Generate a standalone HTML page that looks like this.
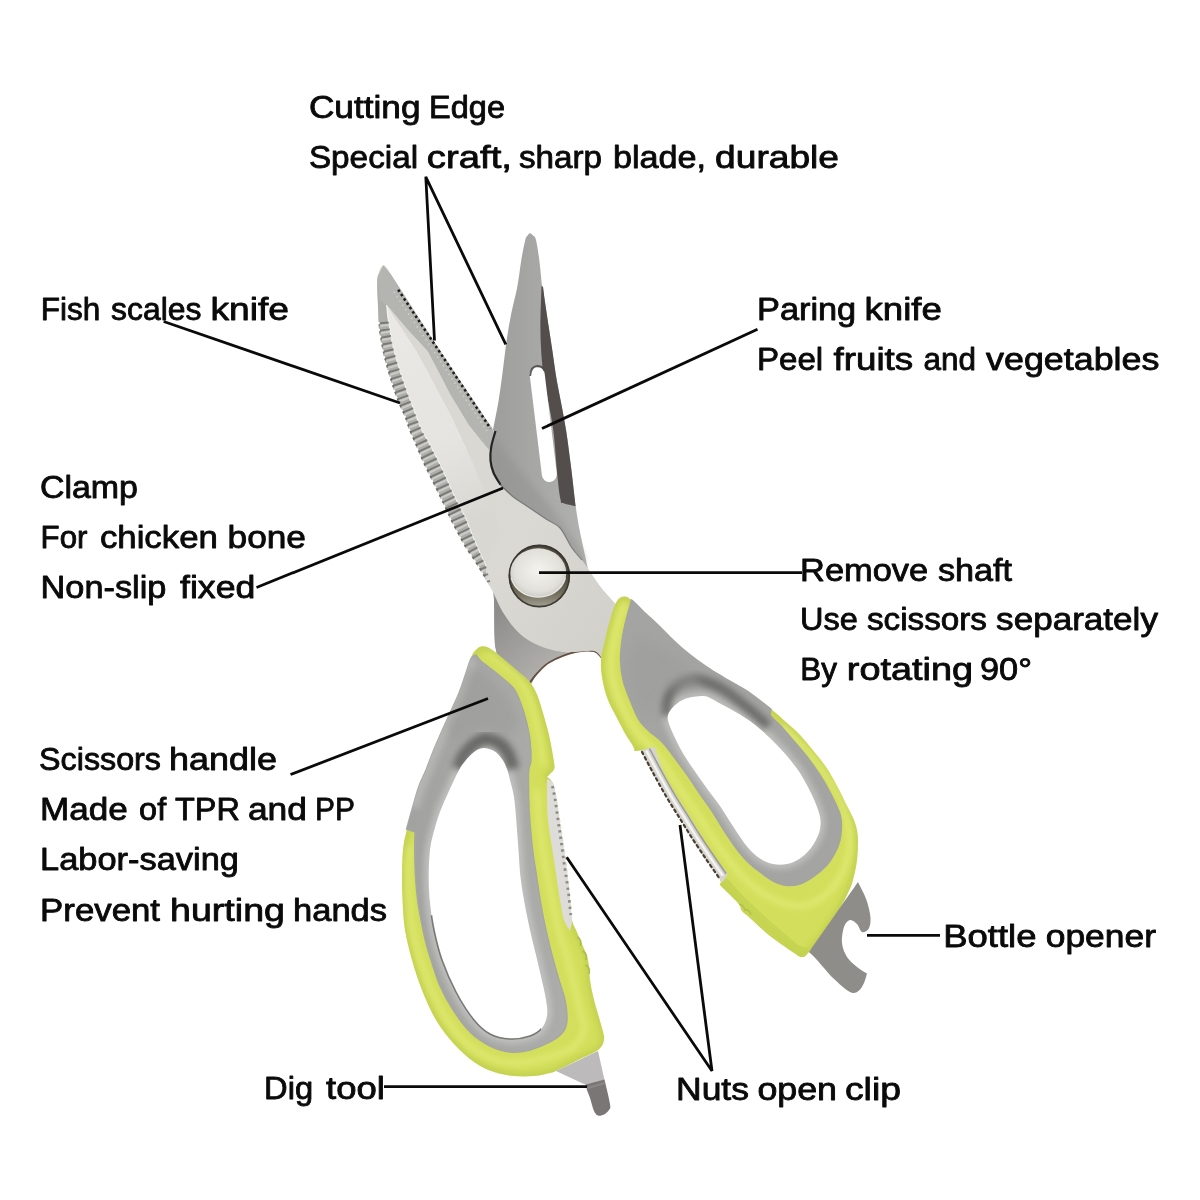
<!DOCTYPE html>
<html><head><meta charset="utf-8"><title>Scissors</title>
<style>
html,body{margin:0;padding:0;background:#fff;}
body{width:1200px;height:1200px;overflow:hidden;font-family:"Liberation Sans",sans-serif;}
svg{display:block;}
text{font-family:"Liberation Sans",sans-serif;fill:#0a0a0a;}
</style></head><body>
<svg width="1200" height="1200" viewBox="0 0 1200 1200">
<defs>
<linearGradient id="gBack" x1="0" y1="0" x2="1" y2="0">
 <stop offset="0" stop-color="#9d9d9b"/><stop offset="1" stop-color="#b2b2b0"/>
</linearGradient>
<linearGradient id="gFront" x1="0" y1="0" x2="1" y2="1">
 <stop offset="0" stop-color="#d3d1cc"/><stop offset="0.6" stop-color="#dbd9d4"/><stop offset="1" stop-color="#d0cec8"/>
</linearGradient>
<radialGradient id="gPiv" cx="0.5" cy="0.45" r="0.6">
 <stop offset="0" stop-color="#f4f3ee"/><stop offset="0.7" stop-color="#e2e0da"/><stop offset="1" stop-color="#c4c2bc"/>
</radialGradient>
<linearGradient id="gHandleL" x1="0" y1="0" x2="1" y2="0">
 <stop offset="0" stop-color="#a2a2a1"/><stop offset="1" stop-color="#acacab"/>
</linearGradient>
<filter id="soft" x="-5%" y="-5%" width="110%" height="110%"><feGaussianBlur stdDeviation="0.6"/></filter>
<filter id="blur2" x="-20%" y="-20%" width="140%" height="140%"><feGaussianBlur stdDeviation="3"/></filter>
<filter id="blur4" x="-20%" y="-20%" width="140%" height="140%"><feGaussianBlur stdDeviation="5"/></filter>
</defs>
<g filter="url(#soft)">
<path d="M527.2 236.0C528.0 234.9 529.0 233.3 530.0 233.2C531.0 233.1 532.0 234.4 533.0 235.5C534.0 236.6 535.0 235.9 536.0 240.0C537.0 244.1 538.3 252.3 539.3 260.0C540.3 267.7 541.5 281.7 542.0 286.0C542.2 286.2 542.8 286.8 543.0 287.0C543.3 289.2 543.8 293.4 544.7 300.0C545.7 306.6 547.4 317.9 548.7 326.7C550.0 335.5 551.4 344.1 552.7 353.0C554.0 361.9 555.2 371.3 556.7 380.0C558.2 388.7 559.9 396.4 561.5 405.0C563.1 413.6 564.7 421.4 566.3 431.7C567.9 442.0 569.4 454.3 571.0 466.7C572.6 479.1 574.2 495.4 575.7 506.3C577.2 517.2 578.3 523.0 580.0 532.0C581.7 541.0 584.3 551.2 586.0 560.0C587.7 568.8 590.2 575.0 590.0 585.0C589.8 595.0 589.0 610.5 585.0 620.0C581.0 629.5 572.7 637.0 566.0 642.0C559.3 647.0 551.3 647.0 545.0 650.0C538.7 653.0 533.5 657.7 528.0 660.0C522.5 662.3 517.3 665.7 512.0 664.0C506.7 662.3 499.0 660.7 496.0 650.0C493.0 639.3 495.0 615.0 494.0 600.0C493.0 585.0 490.7 580.0 490.0 560.0C489.3 540.0 489.5 501.7 490.0 480.0C490.5 458.3 492.5 438.3 493.0 430.0C493.9 425.0 497.0 410.6 498.7 400.0C500.4 389.4 502.0 376.7 503.3 366.7C504.6 356.7 505.4 348.9 506.7 340.0C508.0 331.1 509.5 322.2 511.3 313.3C513.1 304.4 515.6 295.6 517.3 286.7C519.0 277.8 520.0 267.8 521.3 260.0C522.6 252.2 524.3 244.0 525.3 240.0C526.3 236.0 526.4 237.1 527.2 236.0Z" fill="url(#gBack)"/>
<path d="M541.5 286.0C541.8 286.2 542.8 286.8 543.0 287.0C543.3 289.2 543.8 293.4 544.7 300.0C545.7 306.6 547.4 317.9 548.7 326.7C550.0 335.5 551.4 344.1 552.7 353.0C554.0 361.9 555.2 371.3 556.7 380.0C558.2 388.7 559.9 396.4 561.5 405.0C563.1 413.6 564.7 421.4 566.3 431.7C567.9 442.0 569.4 454.3 571.0 466.7C572.6 479.1 574.9 499.7 575.7 506.3C573.6 505.8 565.5 504.1 563.0 503.0C560.5 501.9 561.4 503.7 560.5 499.5C559.6 495.3 558.8 489.3 557.6 478.0C556.4 466.7 555.1 444.7 553.5 431.7C551.9 418.7 549.6 408.6 548.0 400.0C546.4 391.4 545.1 387.8 544.0 380.0C542.9 372.2 541.9 361.8 541.3 353.0C540.7 344.2 540.4 335.8 540.4 327.0C540.4 318.2 540.8 306.8 541.0 300.0C541.2 293.2 541.4 288.3 541.5 286.0Z" fill="#524e4c"/>
<path d="M537.2 374.5 L549.4 474.5" stroke="#fff" stroke-width="15" stroke-linecap="round" fill="none"/>
<path d="M530.2 376 Q530.8 366 537.6 366 Q543.5 366.3 544.5 371" fill="none" stroke="#4e4c4a" stroke-width="1.8" opacity="0.9"/>
<path d="M493.0 440.0C497.7 438.3 508.8 456.7 520.0 470.0C531.2 483.3 549.2 505.0 560.0 520.0C570.8 535.0 585.0 553.3 585.0 560.0C585.0 566.7 570.8 566.7 560.0 560.0C549.2 553.3 531.3 533.3 520.0 520.0C508.7 506.7 496.5 493.3 492.0 480.0C487.5 466.7 488.3 441.7 493.0 440.0Z" fill="#8f8f8d" opacity="0.45" filter="url(#blur2)"/>
<linearGradient id="gTang" gradientUnits="userSpaceOnUse" x1="500" y1="610" x2="550" y2="670"><stop offset="0" stop-color="#8f8d8b"/><stop offset="1" stop-color="#b2b0ad"/></linearGradient>
<path d="M494.0 596.0C496.7 600.3 504.0 614.7 510.0 622.0C516.0 629.3 521.7 635.2 530.0 640.0C538.3 644.8 552.5 649.0 560.0 651.0C567.5 653.0 572.5 651.8 575.0 652.0C570.8 653.7 556.3 658.5 550.0 662.0C543.7 665.5 540.7 669.0 537.0 673.0C533.3 677.0 533.3 684.8 528.0 686.0C522.7 687.2 510.3 686.0 505.0 680.0C499.7 674.0 497.8 664.0 496.0 650.0C494.2 636.0 494.3 605.0 494.0 596.0Z" fill="url(#gTang)"/>
<path d="M601.5 657.5C600.2 656.5 598.4 652.1 594.0 651.2C589.6 650.3 582.3 650.4 575.0 652.2C567.7 654.0 556.3 658.5 550.0 662.0C543.7 665.5 540.3 670.1 537.0 673.5C533.7 676.9 531.2 681.0 530.0 682.5" fill="none" stroke="#5a4030" stroke-width="1.8" opacity="0.9"/>
<clipPath id="cLG"><path d="M476.0 655.0C476.8 656.0 478.7 658.8 481.0 661.0C483.3 663.2 486.3 665.1 490.0 668.0C493.7 670.9 499.0 675.0 503.0 678.5C507.0 682.0 511.1 685.0 514.0 689.0C516.9 693.0 518.5 697.3 520.5 702.5C522.5 707.7 524.4 713.8 526.0 720.0C527.6 726.2 529.2 733.3 530.0 740.0C530.8 746.7 531.2 754.8 531.0 760.0C530.8 765.2 529.1 764.8 528.7 771.0C528.3 777.2 528.5 788.3 528.7 797.0C528.9 805.7 529.3 814.2 530.0 823.0C530.7 831.8 531.6 841.0 532.7 850.0C533.8 859.0 535.4 868.2 536.7 877.0C538.0 885.8 539.2 894.2 540.7 903.0C542.2 911.8 544.1 921.3 546.0 930.0C547.9 938.7 549.8 946.7 552.0 955.0C554.2 963.3 556.8 972.5 559.0 980.0C561.2 987.5 563.7 993.3 565.0 1000.0C566.3 1006.7 567.3 1014.7 567.0 1020.0C566.7 1025.3 565.8 1028.3 563.0 1032.0C560.2 1035.7 555.5 1039.0 550.0 1042.0C544.5 1045.0 536.7 1048.3 530.0 1050.0C523.3 1051.7 516.7 1052.7 510.0 1052.0C503.3 1051.3 496.7 1049.3 490.0 1046.0C483.3 1042.7 476.2 1038.2 470.0 1032.0C463.8 1025.8 457.5 1016.7 452.5 1009.0C447.5 1001.3 443.6 994.2 440.0 986.0C436.4 977.8 433.2 966.8 431.0 960.0C428.8 953.2 427.8 950.0 426.5 945.0C425.2 940.0 424.4 937.0 423.0 930.0C421.6 923.0 419.2 911.8 418.0 903.0C416.8 894.2 416.1 885.8 415.5 877.0C414.9 868.2 414.8 857.5 414.7 850.0C414.6 842.5 414.9 835.0 415.0 832.0C413.6 831.5 407.9 829.5 406.5 829.0C407.5 825.3 410.6 814.2 412.7 807.0C414.8 799.8 416.8 792.2 419.0 786.0C421.2 779.8 423.8 775.5 426.0 770.0C428.2 764.5 430.0 759.2 432.5 753.0C435.0 746.8 438.1 739.7 441.0 733.0C443.9 726.3 447.0 719.7 450.0 713.0C453.0 706.3 456.3 699.7 459.0 693.0C461.7 686.3 464.0 678.8 466.0 673.0C468.0 667.2 469.3 661.5 471.0 658.5C472.7 655.5 475.2 655.6 476.0 655.0Z"/></clipPath>
<clipPath id="cLO"><path d="M481.0 646.5C483.7 645.9 486.3 646.5 490.0 648.5C493.7 650.5 498.5 654.8 503.0 658.5C507.5 662.2 512.7 666.8 517.0 670.5C521.3 674.2 525.7 677.0 529.0 681.0C532.3 685.0 534.7 689.2 537.0 694.5C539.3 699.8 541.1 706.6 543.0 713.0C544.9 719.4 546.9 726.3 548.5 733.0C550.1 739.7 551.5 747.3 552.5 753.0C553.5 758.7 554.4 764.0 554.5 767.0C554.6 770.0 553.2 770.3 553.0 771.0C552.0 772.0 548.0 776.0 547.0 777.0C548.2 778.5 551.8 778.8 554.0 786.0C556.2 793.2 558.0 807.7 560.0 820.0C562.0 832.3 564.3 846.7 566.0 860.0C567.7 873.3 569.0 890.0 570.0 900.0C571.0 910.0 571.0 915.0 572.0 920.0C573.0 925.0 574.3 926.0 576.0 930.0C577.7 934.0 580.0 939.0 582.0 944.0C584.0 949.0 586.7 954.0 588.0 960.0C589.3 966.0 589.0 973.3 590.0 980.0C591.0 986.7 592.0 992.0 594.0 1000.0C596.0 1008.0 600.3 1021.3 602.0 1028.0C603.7 1034.7 604.7 1036.3 604.0 1040.0C603.3 1043.7 602.3 1046.7 598.0 1050.0C593.7 1053.3 584.7 1056.7 578.0 1060.0C571.3 1063.3 562.7 1067.8 558.0 1070.0C553.3 1072.2 554.0 1072.0 550.0 1073.0C546.0 1074.0 540.0 1075.5 534.0 1076.0C528.0 1076.5 520.7 1076.7 514.0 1076.0C507.3 1075.3 500.7 1074.3 494.0 1072.0C487.3 1069.7 480.7 1066.7 474.0 1062.0C467.3 1057.3 460.3 1051.0 454.0 1044.0C447.7 1037.0 441.3 1029.0 436.0 1020.0C430.7 1011.0 426.0 1000.0 422.0 990.0C418.0 980.0 414.8 970.0 412.0 960.0C409.2 950.0 406.6 939.5 405.0 930.0C403.4 920.5 403.2 911.8 402.7 903.0C402.2 894.2 401.9 885.8 402.0 877.0C402.1 868.2 402.2 858.0 403.0 850.0C403.8 842.0 405.4 835.9 407.0 828.7C408.6 821.5 410.7 814.1 412.7 807.0C414.7 799.9 416.8 792.2 419.0 786.0C421.2 779.8 423.8 775.5 426.0 770.0C428.2 764.5 430.0 759.2 432.5 753.0C435.0 746.8 438.1 739.7 441.0 733.0C443.9 726.3 447.0 719.7 450.0 713.0C453.0 706.3 456.3 699.7 459.0 693.0C461.7 686.3 464.0 678.8 466.0 673.0C468.0 667.2 469.7 662.0 471.0 658.5C472.3 655.0 472.3 654.0 474.0 652.0C475.7 650.0 478.3 647.1 481.0 646.5Z"/></clipPath>
<path d="M481.0 646.5C483.7 645.9 486.3 646.5 490.0 648.5C493.7 650.5 498.5 654.8 503.0 658.5C507.5 662.2 512.7 666.8 517.0 670.5C521.3 674.2 525.7 677.0 529.0 681.0C532.3 685.0 534.7 689.2 537.0 694.5C539.3 699.8 541.1 706.6 543.0 713.0C544.9 719.4 546.9 726.3 548.5 733.0C550.1 739.7 551.5 747.3 552.5 753.0C553.5 758.7 554.4 764.0 554.5 767.0C554.6 770.0 553.2 770.3 553.0 771.0C552.0 772.0 548.0 776.0 547.0 777.0C548.2 778.5 551.8 778.8 554.0 786.0C556.2 793.2 558.0 807.7 560.0 820.0C562.0 832.3 564.3 846.7 566.0 860.0C567.7 873.3 569.0 890.0 570.0 900.0C571.0 910.0 571.0 915.0 572.0 920.0C573.0 925.0 574.3 926.0 576.0 930.0C577.7 934.0 580.0 939.0 582.0 944.0C584.0 949.0 586.7 954.0 588.0 960.0C589.3 966.0 589.0 973.3 590.0 980.0C591.0 986.7 592.0 992.0 594.0 1000.0C596.0 1008.0 600.3 1021.3 602.0 1028.0C603.7 1034.7 604.7 1036.3 604.0 1040.0C603.3 1043.7 602.3 1046.7 598.0 1050.0C593.7 1053.3 584.7 1056.7 578.0 1060.0C571.3 1063.3 562.7 1067.8 558.0 1070.0C553.3 1072.2 554.0 1072.0 550.0 1073.0C546.0 1074.0 540.0 1075.5 534.0 1076.0C528.0 1076.5 520.7 1076.7 514.0 1076.0C507.3 1075.3 500.7 1074.3 494.0 1072.0C487.3 1069.7 480.7 1066.7 474.0 1062.0C467.3 1057.3 460.3 1051.0 454.0 1044.0C447.7 1037.0 441.3 1029.0 436.0 1020.0C430.7 1011.0 426.0 1000.0 422.0 990.0C418.0 980.0 414.8 970.0 412.0 960.0C409.2 950.0 406.6 939.5 405.0 930.0C403.4 920.5 403.2 911.8 402.7 903.0C402.2 894.2 401.9 885.8 402.0 877.0C402.1 868.2 402.2 858.0 403.0 850.0C403.8 842.0 405.4 835.9 407.0 828.7C408.6 821.5 410.7 814.1 412.7 807.0C414.7 799.9 416.8 792.2 419.0 786.0C421.2 779.8 423.8 775.5 426.0 770.0C428.2 764.5 430.0 759.2 432.5 753.0C435.0 746.8 438.1 739.7 441.0 733.0C443.9 726.3 447.0 719.7 450.0 713.0C453.0 706.3 456.3 699.7 459.0 693.0C461.7 686.3 464.0 678.8 466.0 673.0C468.0 667.2 469.7 662.0 471.0 658.5C472.3 655.0 472.3 654.0 474.0 652.0C475.7 650.0 478.3 647.1 481.0 646.5Z" fill="#d3df5b"/>
<g clip-path="url(#cLO)">
<path d="M481.0 646.5C483.7 645.9 486.3 646.5 490.0 648.5C493.7 650.5 498.5 654.8 503.0 658.5C507.5 662.2 512.7 666.8 517.0 670.5C521.3 674.2 525.7 677.0 529.0 681.0C532.3 685.0 534.7 689.2 537.0 694.5C539.3 699.8 541.1 706.6 543.0 713.0C544.9 719.4 546.9 726.3 548.5 733.0C550.1 739.7 551.5 747.3 552.5 753.0C553.5 758.7 554.4 764.0 554.5 767.0C554.6 770.0 553.2 770.3 553.0 771.0C552.0 772.0 548.0 776.0 547.0 777.0C548.2 778.5 551.8 778.8 554.0 786.0C556.2 793.2 558.0 807.7 560.0 820.0C562.0 832.3 564.3 846.7 566.0 860.0C567.7 873.3 569.0 890.0 570.0 900.0C571.0 910.0 571.0 915.0 572.0 920.0C573.0 925.0 574.3 926.0 576.0 930.0C577.7 934.0 580.0 939.0 582.0 944.0C584.0 949.0 586.7 954.0 588.0 960.0C589.3 966.0 589.0 973.3 590.0 980.0C591.0 986.7 592.0 992.0 594.0 1000.0C596.0 1008.0 600.3 1021.3 602.0 1028.0C603.7 1034.7 604.7 1036.3 604.0 1040.0C603.3 1043.7 602.3 1046.7 598.0 1050.0C593.7 1053.3 584.7 1056.7 578.0 1060.0C571.3 1063.3 562.7 1067.8 558.0 1070.0C553.3 1072.2 554.0 1072.0 550.0 1073.0C546.0 1074.0 540.0 1075.5 534.0 1076.0C528.0 1076.5 520.7 1076.7 514.0 1076.0C507.3 1075.3 500.7 1074.3 494.0 1072.0C487.3 1069.7 480.7 1066.7 474.0 1062.0C467.3 1057.3 460.3 1051.0 454.0 1044.0C447.7 1037.0 441.3 1029.0 436.0 1020.0C430.7 1011.0 426.0 1000.0 422.0 990.0C418.0 980.0 414.8 970.0 412.0 960.0C409.2 950.0 406.6 939.5 405.0 930.0C403.4 920.5 403.2 911.8 402.7 903.0C402.2 894.2 401.9 885.8 402.0 877.0C402.1 868.2 402.2 858.0 403.0 850.0C403.8 842.0 405.4 835.9 407.0 828.7C408.6 821.5 410.7 814.1 412.7 807.0C414.7 799.9 416.8 792.2 419.0 786.0C421.2 779.8 423.8 775.5 426.0 770.0C428.2 764.5 430.0 759.2 432.5 753.0C435.0 746.8 438.1 739.7 441.0 733.0C443.9 726.3 447.0 719.7 450.0 713.0C453.0 706.3 456.3 699.7 459.0 693.0C461.7 686.3 464.0 678.8 466.0 673.0C468.0 667.2 469.7 662.0 471.0 658.5C472.3 655.0 472.3 654.0 474.0 652.0C475.7 650.0 478.3 647.1 481.0 646.5Z" fill="none" stroke="#b2c146" stroke-width="4" filter="url(#blur2)" opacity="0.85"/>
<path d="M488.0 653.0C490.5 655.0 498.2 661.0 503.0 665.0C507.8 669.0 513.2 673.0 517.0 677.0C520.8 681.0 523.5 684.3 526.0 689.0C528.5 693.7 530.2 699.0 532.0 705.0C533.8 711.0 535.5 718.3 537.0 725.0C538.5 731.7 540.0 738.3 541.0 745.0C542.0 751.7 542.7 761.7 543.0 765.0" fill="none" stroke="#e5ee80" stroke-width="3.5" filter="url(#blur2)" opacity="0.9"/>
<path d="M537.0 790.0C537.3 795.0 538.0 810.0 539.0 820.0C540.0 830.0 541.5 840.0 543.0 850.0C544.5 860.0 546.3 870.8 548.0 880.0C549.7 889.2 551.0 895.8 553.0 905.0C555.0 914.2 557.5 925.8 560.0 935.0C562.5 944.2 565.7 951.7 568.0 960.0C570.3 968.3 572.0 976.7 574.0 985.0C576.0 993.3 578.3 1002.5 580.0 1010.0C581.7 1017.5 585.3 1023.7 584.0 1030.0C582.7 1036.3 578.5 1043.3 572.0 1048.0C565.5 1052.7 554.5 1055.5 545.0 1058.0C535.5 1060.5 524.2 1063.0 515.0 1063.0C505.8 1063.0 497.8 1061.0 490.0 1058.0C482.2 1055.0 475.0 1051.0 468.0 1045.0C461.0 1039.0 454.0 1030.8 448.0 1022.0C442.0 1013.2 436.7 1002.3 432.0 992.0C427.3 981.7 423.3 970.3 420.0 960.0C416.7 949.7 413.8 940.0 412.0 930.0C410.2 920.0 409.7 910.0 409.0 900.0C408.3 890.0 407.8 879.2 408.0 870.0C408.2 860.8 409.7 849.2 410.0 845.0" fill="none" stroke="#e3ec7c" stroke-width="5" filter="url(#blur2)" opacity="0.85"/>
</g>
<path d="M476.0 655.0C476.8 656.0 478.7 658.8 481.0 661.0C483.3 663.2 486.3 665.1 490.0 668.0C493.7 670.9 499.0 675.0 503.0 678.5C507.0 682.0 511.1 685.0 514.0 689.0C516.9 693.0 518.5 697.3 520.5 702.5C522.5 707.7 524.4 713.8 526.0 720.0C527.6 726.2 529.2 733.3 530.0 740.0C530.8 746.7 531.2 754.8 531.0 760.0C530.8 765.2 529.1 764.8 528.7 771.0C528.3 777.2 528.5 788.3 528.7 797.0C528.9 805.7 529.3 814.2 530.0 823.0C530.7 831.8 531.6 841.0 532.7 850.0C533.8 859.0 535.4 868.2 536.7 877.0C538.0 885.8 539.2 894.2 540.7 903.0C542.2 911.8 544.1 921.3 546.0 930.0C547.9 938.7 549.8 946.7 552.0 955.0C554.2 963.3 556.8 972.5 559.0 980.0C561.2 987.5 563.7 993.3 565.0 1000.0C566.3 1006.7 567.3 1014.7 567.0 1020.0C566.7 1025.3 565.8 1028.3 563.0 1032.0C560.2 1035.7 555.5 1039.0 550.0 1042.0C544.5 1045.0 536.7 1048.3 530.0 1050.0C523.3 1051.7 516.7 1052.7 510.0 1052.0C503.3 1051.3 496.7 1049.3 490.0 1046.0C483.3 1042.7 476.2 1038.2 470.0 1032.0C463.8 1025.8 457.5 1016.7 452.5 1009.0C447.5 1001.3 443.6 994.2 440.0 986.0C436.4 977.8 433.2 966.8 431.0 960.0C428.8 953.2 427.8 950.0 426.5 945.0C425.2 940.0 424.4 937.0 423.0 930.0C421.6 923.0 419.2 911.8 418.0 903.0C416.8 894.2 416.1 885.8 415.5 877.0C414.9 868.2 414.8 857.5 414.7 850.0C414.6 842.5 414.9 835.0 415.0 832.0C413.6 831.5 407.9 829.5 406.5 829.0C407.5 825.3 410.6 814.2 412.7 807.0C414.8 799.8 416.8 792.2 419.0 786.0C421.2 779.8 423.8 775.5 426.0 770.0C428.2 764.5 430.0 759.2 432.5 753.0C435.0 746.8 438.1 739.7 441.0 733.0C443.9 726.3 447.0 719.7 450.0 713.0C453.0 706.3 456.3 699.7 459.0 693.0C461.7 686.3 464.0 678.8 466.0 673.0C468.0 667.2 469.3 661.5 471.0 658.5C472.7 655.5 475.2 655.6 476.0 655.0Z" fill="url(#gHandleL)" stroke="#a6a6a5" stroke-width="1.4"/>
<g clip-path="url(#cLG)">
<path d="M483.0 748.0C486.3 747.8 490.8 749.2 494.0 751.0C497.2 752.8 499.8 756.0 502.0 759.0C504.2 762.0 505.7 765.5 507.0 769.0C508.3 772.5 508.8 775.3 510.0 780.0C511.2 784.7 512.9 789.8 514.0 797.0C515.1 804.2 515.8 814.2 516.5 823.0C517.2 831.8 517.8 841.0 518.5 850.0C519.2 859.0 519.5 868.2 520.5 877.0C521.5 885.8 522.9 894.2 524.5 903.0C526.1 911.8 528.1 921.3 530.0 930.0C531.9 938.7 533.8 945.8 536.0 955.0C538.2 964.2 541.2 977.0 543.0 985.0C544.8 993.0 545.8 997.8 546.5 1003.0C547.2 1008.2 547.8 1011.8 547.0 1016.0C546.2 1020.2 544.8 1024.7 542.0 1028.0C539.2 1031.3 535.3 1034.2 530.0 1036.0C524.7 1037.8 516.7 1039.3 510.0 1039.0C503.3 1038.7 496.0 1037.2 490.0 1034.0C484.0 1030.8 479.7 1027.0 474.0 1020.0C468.3 1013.0 461.3 1002.0 456.0 992.0C450.7 982.0 445.7 970.3 442.0 960.0C438.3 949.7 436.0 939.5 434.0 930.0C432.0 920.5 430.9 911.8 430.0 903.0C429.1 894.2 428.7 885.8 428.7 877.0C428.7 868.2 429.1 857.7 430.0 850.0C430.9 842.3 432.2 837.7 434.0 831.0C435.8 824.3 438.0 817.0 440.7 810.0C443.4 803.0 446.9 795.4 450.0 788.7C453.1 782.0 456.3 774.8 459.0 770.0C461.7 765.2 463.5 763.0 466.0 760.0C468.5 757.0 471.2 754.0 474.0 752.0C476.8 750.0 479.7 748.2 483.0 748.0Z" fill="none" stroke="#c4c4c2" stroke-width="9" filter="url(#blur2)" opacity="0.9"/>
<path d="M458.0 769.0C459.3 766.3 461.8 757.9 466.0 753.0C470.2 748.1 477.7 741.2 483.0 739.5C488.3 737.8 493.8 740.1 498.0 742.5C502.2 744.9 505.5 749.6 508.0 754.0C510.5 758.4 512.2 766.5 513.0 769.0" fill="none" stroke="#5a5a58" stroke-width="13" filter="url(#blur2)" opacity="0.8"/>
<path d="M471.0 658.5C470.2 660.9 468.0 667.2 466.0 673.0C464.0 678.8 461.7 686.3 459.0 693.0C456.3 699.7 453.0 706.3 450.0 713.0C447.0 719.7 443.9 726.3 441.0 733.0C438.1 739.7 435.0 746.8 432.5 753.0C430.0 759.2 428.2 764.5 426.0 770.0C423.8 775.5 421.2 779.8 419.0 786.0C416.8 792.2 413.8 803.5 412.7 807.0" fill="none" stroke="#b9b9b7" stroke-width="14" filter="url(#blur2)" opacity="0.8"/>
<path d="M470.0 668.0C476.7 667.2 492.0 681.3 500.0 690.0C508.0 698.7 517.2 712.5 518.0 720.0C518.8 727.5 511.3 733.7 505.0 735.0C498.7 736.3 488.3 727.2 480.0 728.0C471.7 728.8 460.3 740.5 455.0 740.0C449.7 739.5 447.2 732.5 448.0 725.0C448.8 717.5 456.3 704.5 460.0 695.0C463.7 685.5 463.3 668.8 470.0 668.0Z" fill="#9a9a98" opacity="0.5" filter="url(#blur4)"/>
</g>
<path d="M547.0 779.0C548.2 780.2 551.8 779.2 554.0 786.0C556.2 792.8 558.0 807.7 560.0 820.0C562.0 832.3 564.3 846.7 566.0 860.0C567.7 873.3 569.0 890.0 570.0 900.0C571.0 910.0 572.0 914.8 572.0 920.0C572.0 925.2 570.3 929.2 570.0 931.0C569.0 929.2 565.7 925.2 564.0 920.0C562.3 914.8 561.7 910.0 560.0 900.0C558.3 890.0 556.0 873.3 554.0 860.0C552.0 846.7 549.2 833.5 548.0 820.0C546.8 806.5 547.2 785.8 547.0 779.0Z" fill="#dddcd8"/>
<path d="M555.1 784.0C555.6 786.7 557.3 794.0 558.3 800.0C559.3 806.0 560.1 813.3 561.1 820.0C562.1 826.7 563.0 832.3 564.1 840.0C565.2 847.7 566.4 857.2 567.6 866.0C568.9 874.8 570.6 884.8 571.6 893.0C572.6 901.2 573.5 911.3 573.9 915.0" fill="none" stroke="#fff" stroke-width="3" stroke-dasharray="2.2 4.2"/>
<path d="M552.0 784.0C552.5 786.7 554.2 794.0 555.2 800.0C556.2 806.0 557.0 813.3 558.0 820.0C559.0 826.7 559.9 832.3 561.0 840.0C562.1 847.7 563.2 857.2 564.5 866.0C565.8 874.8 567.5 884.8 568.5 893.0C569.5 901.2 570.4 911.3 570.8 915.0" fill="none" stroke="#7f7d78" stroke-width="2.8" stroke-dasharray="2.4 4" stroke-dashoffset="-2.2" opacity="0.85"/>
<path d="M483.0 748.0C486.3 747.8 490.8 749.2 494.0 751.0C497.2 752.8 499.8 756.0 502.0 759.0C504.2 762.0 505.7 765.5 507.0 769.0C508.3 772.5 508.8 775.3 510.0 780.0C511.2 784.7 512.9 789.8 514.0 797.0C515.1 804.2 515.8 814.2 516.5 823.0C517.2 831.8 517.8 841.0 518.5 850.0C519.2 859.0 519.5 868.2 520.5 877.0C521.5 885.8 522.9 894.2 524.5 903.0C526.1 911.8 528.1 921.3 530.0 930.0C531.9 938.7 533.8 945.8 536.0 955.0C538.2 964.2 541.2 977.0 543.0 985.0C544.8 993.0 545.8 997.8 546.5 1003.0C547.2 1008.2 547.8 1011.8 547.0 1016.0C546.2 1020.2 544.8 1024.7 542.0 1028.0C539.2 1031.3 535.3 1034.2 530.0 1036.0C524.7 1037.8 516.7 1039.3 510.0 1039.0C503.3 1038.7 496.0 1037.2 490.0 1034.0C484.0 1030.8 479.7 1027.0 474.0 1020.0C468.3 1013.0 461.3 1002.0 456.0 992.0C450.7 982.0 445.7 970.3 442.0 960.0C438.3 949.7 436.0 939.5 434.0 930.0C432.0 920.5 430.9 911.8 430.0 903.0C429.1 894.2 428.7 885.8 428.7 877.0C428.7 868.2 429.1 857.7 430.0 850.0C430.9 842.3 432.2 837.7 434.0 831.0C435.8 824.3 438.0 817.0 440.7 810.0C443.4 803.0 446.9 795.4 450.0 788.7C453.1 782.0 456.3 774.8 459.0 770.0C461.7 765.2 463.5 763.0 466.0 760.0C468.5 757.0 471.2 754.0 474.0 752.0C476.8 750.0 479.7 748.2 483.0 748.0Z" fill="#fff"/>
<clipPath id="cLH2"><path d="M395 925 L470 905 L540 1020 L545 1060 L395 1060Z"/></clipPath>
<path d="M483.0 748.0C486.3 747.8 490.8 749.2 494.0 751.0C497.2 752.8 499.8 756.0 502.0 759.0C504.2 762.0 505.7 765.5 507.0 769.0C508.3 772.5 508.8 775.3 510.0 780.0C511.2 784.7 512.9 789.8 514.0 797.0C515.1 804.2 515.8 814.2 516.5 823.0C517.2 831.8 517.8 841.0 518.5 850.0C519.2 859.0 519.5 868.2 520.5 877.0C521.5 885.8 522.9 894.2 524.5 903.0C526.1 911.8 528.1 921.3 530.0 930.0C531.9 938.7 533.8 945.8 536.0 955.0C538.2 964.2 541.2 977.0 543.0 985.0C544.8 993.0 545.8 997.8 546.5 1003.0C547.2 1008.2 547.8 1011.8 547.0 1016.0C546.2 1020.2 544.8 1024.7 542.0 1028.0C539.2 1031.3 535.3 1034.2 530.0 1036.0C524.7 1037.8 516.7 1039.3 510.0 1039.0C503.3 1038.7 496.0 1037.2 490.0 1034.0C484.0 1030.8 479.7 1027.0 474.0 1020.0C468.3 1013.0 461.3 1002.0 456.0 992.0C450.7 982.0 445.7 970.3 442.0 960.0C438.3 949.7 436.0 939.5 434.0 930.0C432.0 920.5 430.9 911.8 430.0 903.0C429.1 894.2 428.7 885.8 428.7 877.0C428.7 868.2 429.1 857.7 430.0 850.0C430.9 842.3 432.2 837.7 434.0 831.0C435.8 824.3 438.0 817.0 440.7 810.0C443.4 803.0 446.9 795.4 450.0 788.7C453.1 782.0 456.3 774.8 459.0 770.0C461.7 765.2 463.5 763.0 466.0 760.0C468.5 757.0 471.2 754.0 474.0 752.0C476.8 750.0 479.7 748.2 483.0 748.0Z" fill="none" stroke="#666664" stroke-width="1.6" opacity="0.85" clip-path="url(#cLH2)"/>
<path d="M577.0 937.0 q5 2 3.5 9" fill="none" stroke="#a9b945" stroke-width="1.6" opacity="0.9"/>
<path d="M582.5 951.0 q5 2 3.5 9" fill="none" stroke="#a9b945" stroke-width="1.6" opacity="0.9"/>
<path d="M585.5 965.0 q5 2 3.5 9" fill="none" stroke="#a9b945" stroke-width="1.6" opacity="0.9"/>
<path d="M556.0 1071.0L598.0 1051.0L604.5 1080.0L586.0 1085.0Z" fill="#bcbabb"/>
<path d="M586.0 1084.5C589.1 1083.7 601.4 1080.3 604.5 1079.5C605.4 1083.6 609.2 1098.9 610.0 1104.0C610.8 1109.1 610.0 1108.2 609.0 1110.0C608.0 1111.8 605.8 1113.6 604.0 1114.5C602.2 1115.4 599.7 1116.1 598.0 1115.5C596.3 1114.9 595.3 1113.9 594.0 1111.0C592.7 1108.1 591.2 1101.5 590.0 1098.0C588.8 1094.5 587.7 1092.2 587.0 1090.0C586.3 1087.8 586.2 1085.4 586.0 1084.5Z" fill="#7a7675"/>
<path d="M588 1088 L605 1083" stroke="#8f8b8a" stroke-width="2" opacity="0.8"/>
<path d="M383.3 265.3C385.5 264.8 389.5 272.6 390.7 274.0C398.1 285.5 418.1 317.3 435.0 343.0C451.9 368.7 482.5 413.8 492.0 428.0C492.4 429.0 494.9 430.8 494.7 434.0C494.5 437.2 491.5 442.6 490.7 447.0C489.9 451.4 489.6 456.4 490.0 460.7C490.4 465.0 491.3 468.7 493.0 472.7C494.7 476.7 496.7 480.7 500.0 484.7C503.3 488.7 508.6 493.1 513.0 496.7C517.5 500.2 521.2 502.3 526.7 506.0C532.2 509.7 540.5 515.3 546.0 519.0C551.5 522.7 555.7 523.2 560.0 528.0C564.3 532.8 568.3 542.7 572.0 548.0C575.7 553.3 577.3 553.7 582.0 560.0C586.7 566.3 595.0 579.3 600.0 586.0C605.0 592.7 607.0 594.3 612.0 600.0C617.0 605.7 625.3 613.3 630.0 620.0C634.7 626.7 644.8 633.8 640.0 640.0C635.2 646.2 607.9 654.6 601.5 657.5C600.2 656.4 598.4 651.9 594.0 651.0C589.6 650.1 580.7 651.9 575.0 652.0C569.3 652.1 565.8 652.5 560.0 651.5C554.2 650.5 546.7 648.9 540.0 646.0C533.3 643.1 526.0 639.3 520.0 634.0C514.0 628.7 508.5 621.0 504.0 614.0C499.5 607.0 496.0 597.7 493.0 592.0C490.0 586.3 488.4 584.0 486.0 580.0C483.6 576.0 481.0 571.8 478.7 568.0C476.4 564.2 474.0 560.0 472.0 557.0C470.0 554.0 468.2 552.3 466.7 550.0C465.1 547.7 465.1 547.5 462.7 543.0C460.2 538.5 455.3 529.7 452.0 523.0C448.7 516.3 445.9 509.7 442.7 503.0C439.5 496.3 436.1 489.4 433.0 483.0C429.9 476.6 427.1 471.4 424.0 464.7C420.9 458.0 417.2 448.8 414.7 443.0C412.2 437.2 410.6 434.2 409.0 430.0C407.4 425.8 406.9 422.3 405.0 417.5C403.1 412.7 399.7 406.6 397.5 401.0C395.3 395.4 393.5 389.6 391.7 384.0C389.9 378.4 388.2 373.0 386.7 367.5C385.2 362.0 383.8 357.2 382.5 351.0C381.2 344.8 379.8 337.5 379.0 330.0C378.2 322.5 378.3 312.7 378.0 306.0C377.7 299.3 377.4 294.8 377.3 290.0C377.2 285.2 376.5 281.1 377.5 277.0C378.5 272.9 381.1 265.8 383.3 265.3Z" fill="url(#gFront)"/>
<path d="M383.3 265.3L390.7 274.0L435.0 343.0L492.0 428.0L494.7 434.0L489.0 450.0L489.0 450.0L479.0 438.0L468.0 424.0L461.5 413.0L450.5 395.0L438.5 371.7L427.5 351.0L408.0 330.0L397.0 317.0L386.7 305.0L380.0 306.0L378.0 290.0L377.5 277.0Z" fill="#b4b4b0"/>
<path d="M398.7 288.7L492.0 428.0" fill="none" stroke="#d4d4d0" stroke-width="1.6" stroke-dasharray="1.6 3.6" opacity="0.8" transform="translate(-5,3)"/>
<path d="M377.5 277.0L377.3 290.0L378.0 306.0L379.0 330.0L382.5 351.0L386.7 367.5L391.7 384.0L397.5 401.0L405.0 417.5L409.0 430.0L414.7 443.0L424.0 464.7L433.0 483.0L442.7 503.0L452.0 523.0L462.7 543.0L466.7 550.0L472.0 557.0L478.7 568.0L486.0 580.0L486.0 566.0L478.7 550.0L473.0 536.7L465.0 516.7L454.7 496.7L442.7 470.0L429.0 443.0L421.7 430.0L415.0 413.0L409.0 396.7L403.0 380.0L397.5 363.0L393.0 346.7L390.0 330.0L388.0 318.0L386.7 305.0L380.0 300.0Z" fill="#adadaa"/>
<linearGradient id="gBright" gradientUnits="userSpaceOnUse" x1="400" y1="320" x2="490" y2="540"><stop offset="0" stop-color="#e9e8e4"/><stop offset="0.55" stop-color="#e5e4e0"/><stop offset="0.9" stop-color="#d9d7d2"/><stop offset="1" stop-color="#d9d7d2"/></linearGradient>
<path d="M386.7 305.0L388.0 318.0L390.0 330.0L393.0 346.7L397.5 363.0L403.0 380.0L409.0 396.7L415.0 413.0L421.7 430.0L429.0 443.0L442.7 470.0L454.7 496.7L465.0 516.7L473.0 536.7L478.7 550.0L486.0 566.0L500.0 530.0L488.0 500.0L476.0 470.0L466.0 447.0L458.0 430.0L450.0 413.0L439.0 392.5L428.0 371.7L416.7 351.0L403.0 330.0L394.5 317.0L386.7 305.0Z" fill="url(#gBright)"/>
<path d="M386.7 305.0L394.5 317.0L403.0 330.0L416.7 351.0L428.0 371.7L439.0 392.5L450.0 413.0L458.0 430.0L466.0 447.0L476.0 470.0L488.0 500.0L500.0 530.0L489.0 450.0L479.0 438.0L468.0 424.0L461.5 413.0L450.5 395.0L438.5 371.7L427.5 351.0L408.0 330.0L397.0 317.0L386.7 305.0Z" fill="#d9d8d3"/>
<path d="M386.7 305.0C386.9 307.2 387.4 313.8 388.0 318.0C388.6 322.2 389.2 325.2 390.0 330.0C390.8 334.8 391.8 341.2 393.0 346.7C394.2 352.2 395.8 357.4 397.5 363.0C399.2 368.6 401.1 374.4 403.0 380.0C404.9 385.6 407.0 391.2 409.0 396.7C411.0 402.2 412.9 407.4 415.0 413.0C417.1 418.6 419.4 425.0 421.7 430.0C424.0 435.0 425.5 436.3 429.0 443.0C432.5 449.7 438.4 461.1 442.7 470.0C447.0 478.9 451.0 488.9 454.7 496.7C458.4 504.5 461.9 510.0 465.0 516.7C468.1 523.4 470.7 531.2 473.0 536.7C475.3 542.2 476.5 545.1 478.7 550.0C480.9 554.9 484.8 563.3 486.0 566.0" fill="none" stroke="#f6f6f3" stroke-width="1.2" opacity="0.9"/>
<clipPath id="cTB"><path d="M377.5 277.0L377.3 290.0L378.0 306.0L379.0 330.0L382.5 351.0L386.7 367.5L391.7 384.0L397.5 401.0L405.0 417.5L409.0 430.0L414.7 443.0L424.0 464.7L433.0 483.0L442.7 503.0L452.0 523.0L462.7 543.0L466.7 550.0L472.0 557.0L478.7 568.0L486.0 580.0L493.0 592.0L486.0 566.0L478.7 550.0L473.0 536.7L465.0 516.7L454.7 496.7L442.7 470.0L429.0 443.0L421.7 430.0L415.0 413.0L409.0 396.7L403.0 380.0L397.5 363.0L393.0 346.7L390.0 330.0L388.0 318.0L386.7 305.0L380.0 300.0Z"/></clipPath>
<g clip-path="url(#cTB)">
<path d="M383.7 322.0C383.8 323.3 384.1 327.3 384.5 330.0C384.9 332.7 385.4 335.3 385.9 338.0C386.3 340.7 386.7 343.3 387.3 346.0C387.8 348.7 388.5 351.3 389.1 354.0C389.8 356.7 390.5 359.3 391.3 362.0C392.0 364.7 392.8 367.3 393.6 370.0C394.4 372.7 395.3 375.3 396.1 378.0C397.0 380.7 397.9 383.3 398.8 386.0C399.7 388.7 400.6 391.3 401.6 394.0C402.5 396.7 403.4 399.3 404.5 402.0C405.5 404.7 406.6 407.3 407.7 410.0C408.8 412.7 410.0 415.3 411.1 418.0C412.1 420.7 412.9 423.3 413.9 426.0C415.0 428.7 416.1 431.3 417.4 434.0C418.6 436.7 420.1 439.3 421.4 442.0C422.6 444.7 423.9 447.3 425.1 450.0C426.4 452.7 427.6 455.3 428.9 458.0C430.1 460.7 431.4 463.3 432.7 466.0C433.9 468.7 435.3 471.3 436.5 474.0C437.8 476.7 439.0 479.3 440.3 482.0C441.6 484.7 442.8 487.3 444.0 490.0C445.3 492.7 446.5 495.3 447.8 498.0C449.1 500.7 450.5 503.3 451.8 506.0C453.1 508.7 454.5 511.3 455.7 514.0C457.0 516.7 458.1 519.3 459.3 522.0C460.5 524.7 461.8 527.3 463.0 530.0C464.3 532.7 465.5 535.3 466.8 538.0C468.1 540.7 469.3 543.3 470.7 546.0C472.1 548.7 473.6 551.3 475.1 554.0C476.6 556.7 478.3 559.3 479.6 562.0C480.9 564.7 482.0 567.3 483.0 570.0C483.9 572.7 484.6 575.3 485.4 578.0C486.2 580.7 487.4 584.7 487.8 586.0" fill="none" stroke="#6d6b66" stroke-width="18" stroke-dasharray="1.9 5.1" opacity="0.8"/>
<path d="M383.7 322.0C383.8 323.3 384.1 327.3 384.5 330.0C384.9 332.7 385.4 335.3 385.9 338.0C386.3 340.7 386.7 343.3 387.3 346.0C387.8 348.7 388.5 351.3 389.1 354.0C389.8 356.7 390.5 359.3 391.3 362.0C392.0 364.7 392.8 367.3 393.6 370.0C394.4 372.7 395.3 375.3 396.1 378.0C397.0 380.7 397.9 383.3 398.8 386.0C399.7 388.7 400.6 391.3 401.6 394.0C402.5 396.7 403.4 399.3 404.5 402.0C405.5 404.7 406.6 407.3 407.7 410.0C408.8 412.7 410.0 415.3 411.1 418.0C412.1 420.7 412.9 423.3 413.9 426.0C415.0 428.7 416.1 431.3 417.4 434.0C418.6 436.7 420.1 439.3 421.4 442.0C422.6 444.7 423.9 447.3 425.1 450.0C426.4 452.7 427.6 455.3 428.9 458.0C430.1 460.7 431.4 463.3 432.7 466.0C433.9 468.7 435.3 471.3 436.5 474.0C437.8 476.7 439.0 479.3 440.3 482.0C441.6 484.7 442.8 487.3 444.0 490.0C445.3 492.7 446.5 495.3 447.8 498.0C449.1 500.7 450.5 503.3 451.8 506.0C453.1 508.7 454.5 511.3 455.7 514.0C457.0 516.7 458.1 519.3 459.3 522.0C460.5 524.7 461.8 527.3 463.0 530.0C464.3 532.7 465.5 535.3 466.8 538.0C468.1 540.7 469.3 543.3 470.7 546.0C472.1 548.7 473.6 551.3 475.1 554.0C476.6 556.7 478.3 559.3 479.6 562.0C480.9 564.7 482.0 567.3 483.0 570.0C483.9 572.7 484.6 575.3 485.4 578.0C486.2 580.7 487.4 584.7 487.8 586.0" fill="none" stroke="#d6d6d2" stroke-width="18" stroke-dasharray="2.2 4.8" stroke-dashoffset="-2.4" opacity="0.7"/>
</g>
<path d="M378.4 322.0C378.4 323.3 378.4 327.3 378.7 330.0C379.0 332.7 379.6 335.3 380.0 338.0C380.5 340.7 380.9 343.3 381.4 346.0C381.9 348.7 382.4 351.3 383.0 354.0C383.6 356.7 384.3 359.3 385.0 362.0C385.7 364.7 386.4 367.3 387.2 370.0C387.9 372.7 388.8 375.3 389.6 378.0C390.4 380.7 391.2 383.3 392.1 386.0C393.0 388.7 393.9 391.3 394.8 394.0C395.7 396.7 396.6 399.3 397.7 402.0C398.7 404.7 400.1 407.3 401.3 410.0C402.5 412.7 403.8 415.3 404.9 418.0C405.9 420.7 406.5 423.3 407.4 426.0C408.4 428.7 409.4 431.3 410.5 434.0C411.5 436.7 412.8 439.3 414.0 442.0C415.1 444.7 416.3 447.3 417.4 450.0C418.5 452.7 419.7 455.3 420.8 458.0C422.0 460.7 423.1 463.3 424.3 466.0C425.6 468.7 427.0 471.3 428.3 474.0C429.6 476.7 430.9 479.3 432.2 482.0C433.5 484.7 434.8 487.3 436.1 490.0C437.4 492.7 438.7 495.3 440.0 498.0C441.3 500.7 442.5 503.3 443.8 506.0C445.1 508.7 446.3 511.3 447.5 514.0C448.8 516.7 449.9 519.3 451.2 522.0C452.6 524.7 454.0 527.3 455.4 530.0C456.9 532.7 458.3 535.3 459.7 538.0C461.2 540.7 462.5 543.3 464.1 546.0C465.7 548.7 467.7 551.3 469.4 554.0C471.2 556.7 473.0 559.3 474.7 562.0C476.4 564.7 478.0 567.3 479.6 570.0C481.2 572.7 483.7 576.7 484.5 578.0" fill="none" stroke="#fff" stroke-width="2.6" stroke-dasharray="2.2 4.8" stroke-dashoffset="0.2"/>
<path d="M379.4 322.0C379.4 323.3 379.4 327.3 379.7 330.0C380.0 332.7 380.6 335.3 381.0 338.0C381.5 340.7 381.9 343.3 382.4 346.0C382.9 348.7 383.4 351.3 384.0 354.0C384.6 356.7 385.3 359.3 386.0 362.0C386.7 364.7 387.4 367.3 388.2 370.0C388.9 372.7 389.8 375.3 390.6 378.0C391.4 380.7 392.2 383.3 393.1 386.0C394.0 388.7 394.9 391.3 395.8 394.0C396.7 396.7 397.6 399.3 398.7 402.0C399.7 404.7 401.1 407.3 402.3 410.0C403.5 412.7 404.8 415.3 405.9 418.0C406.9 420.7 407.5 423.3 408.4 426.0C409.4 428.7 410.4 431.3 411.5 434.0C412.5 436.7 413.8 439.3 415.0 442.0C416.1 444.7 417.3 447.3 418.4 450.0C419.5 452.7 420.7 455.3 421.8 458.0C423.0 460.7 424.1 463.3 425.3 466.0C426.6 468.7 428.0 471.3 429.3 474.0C430.6 476.7 431.9 479.3 433.2 482.0C434.5 484.7 435.8 487.3 437.1 490.0C438.4 492.7 439.7 495.3 441.0 498.0C442.3 500.7 443.5 503.3 444.8 506.0C446.1 508.7 447.3 511.3 448.5 514.0C449.8 516.7 450.9 519.3 452.2 522.0C453.6 524.7 455.0 527.3 456.4 530.0C457.9 532.7 459.3 535.3 460.7 538.0C462.2 540.7 463.5 543.3 465.1 546.0C466.7 548.7 468.7 551.3 470.4 554.0C472.2 556.7 474.0 559.3 475.7 562.0C477.4 564.7 479.0 567.3 480.6 570.0C482.2 572.7 484.7 576.7 485.5 578.0" fill="none" stroke="#5a5048" stroke-width="1.3" stroke-dasharray="2.4 4.6" stroke-dashoffset="-2.4" opacity="0.55"/>
<path d="M398.2 289.7L490.5 428.5" fill="none" stroke="#1e1e1e" stroke-width="2.6" stroke-dasharray="2.5 2.7"/>
<path d="M495.5 431.0C494.8 433.7 492.0 442.1 491.2 447.0C490.4 451.9 490.1 456.4 490.5 460.7C490.9 465.0 491.8 468.7 493.5 472.7C495.2 476.7 499.3 482.7 500.5 484.7" fill="none" stroke="#1c1c1c" stroke-width="2.2" opacity="0.95"/>
<path d="M500.5 484.7C502.6 486.7 508.6 493.1 513.0 496.7C517.4 500.2 521.2 502.3 526.7 506.0C532.2 509.7 540.5 515.3 546.0 519.0C551.5 522.7 555.7 523.2 560.0 528.0C564.3 532.8 568.3 542.7 572.0 548.0C575.7 553.3 580.3 558.0 582.0 560.0" fill="none" stroke="#555" stroke-width="1.2" opacity="0.6"/>
<clipPath id="cRG"><path d="M631.5 600.0C630.6 603.3 627.6 613.3 626.0 620.0C624.4 626.7 622.9 633.3 622.0 640.0C621.1 646.7 620.3 653.3 620.5 660.0C620.7 666.7 621.4 673.3 623.0 680.0C624.6 686.7 627.3 693.3 630.0 700.0C632.7 706.7 635.8 714.8 639.0 720.0C642.2 725.2 645.5 727.7 649.0 731.0C652.5 734.3 656.8 737.0 660.0 740.0C663.2 743.0 665.2 745.5 668.0 749.0C670.8 752.5 673.7 756.5 677.0 761.0C680.3 765.5 684.2 770.5 688.0 776.0C691.8 781.5 696.0 788.2 700.0 794.0C704.0 799.8 707.8 804.7 712.0 811.0C716.2 817.3 720.5 825.2 725.0 832.0C729.5 838.8 734.8 846.7 739.0 852.0C743.2 857.3 746.5 860.7 750.0 864.0C753.5 867.3 756.2 869.2 760.0 872.0C763.8 874.8 768.5 878.8 773.0 881.0C777.5 883.2 782.5 885.0 787.0 885.5C791.5 886.0 795.7 885.4 800.0 884.0C804.3 882.6 808.5 880.2 813.0 877.0C817.5 873.8 823.3 869.0 827.0 865.0C830.7 861.0 832.8 857.2 835.0 853.0C837.2 848.8 838.9 844.5 840.0 840.0C841.1 835.5 841.4 830.0 841.5 826.0C841.6 822.0 841.2 819.2 840.5 816.0C839.8 812.8 838.7 810.3 837.0 806.5C835.3 802.7 833.3 798.2 830.5 793.0C827.7 787.8 824.0 781.2 820.0 775.0C816.0 768.8 811.0 761.8 806.5 756.0C802.0 750.2 797.4 745.2 793.0 740.0C788.6 734.8 783.7 729.0 780.0 725.0C776.3 721.0 772.5 718.7 771.0 716.0C769.5 713.3 771.0 710.2 771.0 709.0C767.5 706.3 755.7 697.0 750.0 693.0C744.3 689.0 741.5 687.7 737.0 685.0C732.5 682.3 727.5 679.7 723.0 677.0C718.5 674.3 714.3 671.8 710.0 669.0C705.7 666.2 701.5 663.3 697.0 660.0C692.5 656.7 687.5 652.8 683.0 649.0C678.5 645.2 674.3 641.2 670.0 637.0C665.7 632.8 661.5 628.3 657.0 624.0C652.5 619.7 646.8 614.7 643.0 611.0C639.2 607.3 635.9 603.8 634.0 602.0C632.1 600.2 631.9 600.3 631.5 600.0Z"/></clipPath>
<clipPath id="cRO"><path d="M625.0 596.5C622.2 596.3 619.5 597.1 617.0 601.0C614.5 604.9 612.0 613.5 610.0 620.0C608.0 626.5 606.5 633.3 605.0 640.0C603.5 646.7 601.4 653.3 601.0 660.0C600.6 666.7 601.3 673.3 602.5 680.0C603.7 686.7 605.4 693.3 608.0 700.0C610.6 706.7 615.0 714.2 618.0 720.0C621.0 725.8 623.5 730.7 626.0 735.0C628.5 739.3 631.6 743.3 633.0 746.0C634.4 748.7 634.2 750.2 634.5 751.0C635.6 750.9 639.9 750.6 641.0 750.5C643.0 754.2 648.7 765.2 653.0 773.0C657.3 780.8 662.5 789.4 667.0 797.0C671.5 804.6 675.7 811.3 680.0 818.5C684.3 825.7 688.5 833.1 693.0 840.0C697.5 846.9 702.8 854.0 707.0 860.0C711.2 866.0 715.7 872.3 718.0 876.0C720.3 879.7 720.5 881.0 721.0 882.0C720.8 882.5 720.2 884.5 720.0 885.0C723.0 888.0 734.3 898.7 738.0 903.0C741.7 907.3 740.0 908.5 742.0 911.0C744.0 913.5 745.3 913.8 750.0 918.0C754.7 922.2 762.7 930.2 770.0 936.0C777.3 941.8 788.7 949.5 794.0 953.0C799.3 956.5 799.5 957.2 802.0 957.0C804.5 956.8 803.8 958.2 809.0 952.0C814.2 945.8 826.5 929.8 833.0 920.0C839.5 910.2 844.7 899.7 848.0 893.0C851.3 886.3 851.5 885.5 853.0 880.0C854.5 874.5 856.2 866.7 857.0 860.0C857.8 853.3 858.1 845.3 858.0 840.0C857.9 834.7 857.3 831.7 856.5 828.0C855.7 824.3 854.6 821.7 853.0 818.0C851.4 814.3 849.6 811.2 847.0 806.0C844.4 800.8 840.8 793.2 837.5 787.0C834.2 780.8 831.0 774.5 827.0 768.5C823.0 762.5 818.0 756.6 813.5 751.0C809.0 745.4 804.4 739.7 800.0 735.0C795.6 730.3 791.8 727.3 787.0 723.0C782.2 718.7 777.2 714.0 771.0 709.0C764.8 704.0 755.7 697.0 750.0 693.0C744.3 689.0 741.5 687.7 737.0 685.0C732.5 682.3 727.5 679.7 723.0 677.0C718.5 674.3 714.3 671.8 710.0 669.0C705.7 666.2 701.5 663.3 697.0 660.0C692.5 656.7 687.5 652.8 683.0 649.0C678.5 645.2 674.3 641.2 670.0 637.0C665.7 632.8 661.5 628.3 657.0 624.0C652.5 619.7 646.8 614.7 643.0 611.0C639.2 607.3 637.0 604.4 634.0 602.0C631.0 599.6 627.8 596.7 625.0 596.5Z"/></clipPath>
<path d="M625.0 596.5C622.2 596.3 619.5 597.1 617.0 601.0C614.5 604.9 612.0 613.5 610.0 620.0C608.0 626.5 606.5 633.3 605.0 640.0C603.5 646.7 601.4 653.3 601.0 660.0C600.6 666.7 601.3 673.3 602.5 680.0C603.7 686.7 605.4 693.3 608.0 700.0C610.6 706.7 615.0 714.2 618.0 720.0C621.0 725.8 623.5 730.7 626.0 735.0C628.5 739.3 631.6 743.3 633.0 746.0C634.4 748.7 634.2 750.2 634.5 751.0C635.6 750.9 639.9 750.6 641.0 750.5C643.0 754.2 648.7 765.2 653.0 773.0C657.3 780.8 662.5 789.4 667.0 797.0C671.5 804.6 675.7 811.3 680.0 818.5C684.3 825.7 688.5 833.1 693.0 840.0C697.5 846.9 702.8 854.0 707.0 860.0C711.2 866.0 715.7 872.3 718.0 876.0C720.3 879.7 720.5 881.0 721.0 882.0C720.8 882.5 720.2 884.5 720.0 885.0C723.0 888.0 734.3 898.7 738.0 903.0C741.7 907.3 740.0 908.5 742.0 911.0C744.0 913.5 745.3 913.8 750.0 918.0C754.7 922.2 762.7 930.2 770.0 936.0C777.3 941.8 788.7 949.5 794.0 953.0C799.3 956.5 799.5 957.2 802.0 957.0C804.5 956.8 803.8 958.2 809.0 952.0C814.2 945.8 826.5 929.8 833.0 920.0C839.5 910.2 844.7 899.7 848.0 893.0C851.3 886.3 851.5 885.5 853.0 880.0C854.5 874.5 856.2 866.7 857.0 860.0C857.8 853.3 858.1 845.3 858.0 840.0C857.9 834.7 857.3 831.7 856.5 828.0C855.7 824.3 854.6 821.7 853.0 818.0C851.4 814.3 849.6 811.2 847.0 806.0C844.4 800.8 840.8 793.2 837.5 787.0C834.2 780.8 831.0 774.5 827.0 768.5C823.0 762.5 818.0 756.6 813.5 751.0C809.0 745.4 804.4 739.7 800.0 735.0C795.6 730.3 791.8 727.3 787.0 723.0C782.2 718.7 777.2 714.0 771.0 709.0C764.8 704.0 755.7 697.0 750.0 693.0C744.3 689.0 741.5 687.7 737.0 685.0C732.5 682.3 727.5 679.7 723.0 677.0C718.5 674.3 714.3 671.8 710.0 669.0C705.7 666.2 701.5 663.3 697.0 660.0C692.5 656.7 687.5 652.8 683.0 649.0C678.5 645.2 674.3 641.2 670.0 637.0C665.7 632.8 661.5 628.3 657.0 624.0C652.5 619.7 646.8 614.7 643.0 611.0C639.2 607.3 637.0 604.4 634.0 602.0C631.0 599.6 627.8 596.7 625.0 596.5Z" fill="#d3df5b"/>
<g clip-path="url(#cRO)">
<path d="M625.0 596.5C622.2 596.3 619.5 597.1 617.0 601.0C614.5 604.9 612.0 613.5 610.0 620.0C608.0 626.5 606.5 633.3 605.0 640.0C603.5 646.7 601.4 653.3 601.0 660.0C600.6 666.7 601.3 673.3 602.5 680.0C603.7 686.7 605.4 693.3 608.0 700.0C610.6 706.7 615.0 714.2 618.0 720.0C621.0 725.8 623.5 730.7 626.0 735.0C628.5 739.3 631.6 743.3 633.0 746.0C634.4 748.7 634.2 750.2 634.5 751.0C635.6 750.9 639.9 750.6 641.0 750.5C643.0 754.2 648.7 765.2 653.0 773.0C657.3 780.8 662.5 789.4 667.0 797.0C671.5 804.6 675.7 811.3 680.0 818.5C684.3 825.7 688.5 833.1 693.0 840.0C697.5 846.9 702.8 854.0 707.0 860.0C711.2 866.0 715.7 872.3 718.0 876.0C720.3 879.7 720.5 881.0 721.0 882.0C720.8 882.5 720.2 884.5 720.0 885.0C723.0 888.0 734.3 898.7 738.0 903.0C741.7 907.3 740.0 908.5 742.0 911.0C744.0 913.5 745.3 913.8 750.0 918.0C754.7 922.2 762.7 930.2 770.0 936.0C777.3 941.8 788.7 949.5 794.0 953.0C799.3 956.5 799.5 957.2 802.0 957.0C804.5 956.8 803.8 958.2 809.0 952.0C814.2 945.8 826.5 929.8 833.0 920.0C839.5 910.2 844.7 899.7 848.0 893.0C851.3 886.3 851.5 885.5 853.0 880.0C854.5 874.5 856.2 866.7 857.0 860.0C857.8 853.3 858.1 845.3 858.0 840.0C857.9 834.7 857.3 831.7 856.5 828.0C855.7 824.3 854.6 821.7 853.0 818.0C851.4 814.3 849.6 811.2 847.0 806.0C844.4 800.8 840.8 793.2 837.5 787.0C834.2 780.8 831.0 774.5 827.0 768.5C823.0 762.5 818.0 756.6 813.5 751.0C809.0 745.4 804.4 739.7 800.0 735.0C795.6 730.3 791.8 727.3 787.0 723.0C782.2 718.7 777.2 714.0 771.0 709.0C764.8 704.0 755.7 697.0 750.0 693.0C744.3 689.0 741.5 687.7 737.0 685.0C732.5 682.3 727.5 679.7 723.0 677.0C718.5 674.3 714.3 671.8 710.0 669.0C705.7 666.2 701.5 663.3 697.0 660.0C692.5 656.7 687.5 652.8 683.0 649.0C678.5 645.2 674.3 641.2 670.0 637.0C665.7 632.8 661.5 628.3 657.0 624.0C652.5 619.7 646.8 614.7 643.0 611.0C639.2 607.3 637.0 604.4 634.0 602.0C631.0 599.6 627.8 596.7 625.0 596.5Z" fill="none" stroke="#b2c146" stroke-width="4" filter="url(#blur2)" opacity="0.85"/>
<path d="M624.0 603.0C622.7 607.5 618.2 620.5 616.0 630.0C613.8 639.5 611.5 651.3 611.0 660.0C610.5 668.7 611.5 675.0 613.0 682.0C614.5 689.0 617.2 695.3 620.0 702.0C622.8 708.7 626.3 716.0 630.0 722.0C633.7 728.0 637.7 733.0 642.0 738.0C646.3 743.0 651.7 746.7 656.0 752.0C660.3 757.3 663.7 763.3 668.0 770.0C672.3 776.7 677.3 785.0 682.0 792.0C686.7 799.0 691.3 805.0 696.0 812.0C700.7 819.0 705.3 827.0 710.0 834.0C714.7 841.0 719.0 847.3 724.0 854.0C729.0 860.7 734.3 868.0 740.0 874.0C745.7 880.0 751.3 885.3 758.0 890.0C764.7 894.7 772.7 899.3 780.0 902.0C787.3 904.7 795.0 906.7 802.0 906.0C809.0 905.3 816.0 902.3 822.0 898.0C828.0 893.7 833.7 886.7 838.0 880.0C842.3 873.3 846.0 865.3 848.0 858.0C850.0 850.7 850.3 843.3 850.0 836.0C849.7 828.7 848.0 821.0 846.0 814.0C844.0 807.0 841.3 800.7 838.0 794.0C834.7 787.3 830.3 780.3 826.0 774.0C821.7 767.7 816.8 761.7 812.0 756.0C807.2 750.3 802.0 745.0 797.0 740.0C792.0 735.0 784.5 728.3 782.0 726.0" fill="none" stroke="#e5ee80" stroke-width="4.5" filter="url(#blur2)" opacity="0.9"/>
<path d="M719 884 L738 903 L766 929 L795 953 L803 957 L808 949 L798 945 L771 922 L744 897 L727 878Z" fill="#c3d250" opacity="0.8"/>
<path d="M739 905 q4 -1 6 5 q4 -1 6 5" fill="none" stroke="#b2c146" stroke-width="1.5"/>
</g>
<path d="M631.5 600.0C630.6 603.3 627.6 613.3 626.0 620.0C624.4 626.7 622.9 633.3 622.0 640.0C621.1 646.7 620.3 653.3 620.5 660.0C620.7 666.7 621.4 673.3 623.0 680.0C624.6 686.7 627.3 693.3 630.0 700.0C632.7 706.7 635.8 714.8 639.0 720.0C642.2 725.2 645.5 727.7 649.0 731.0C652.5 734.3 656.8 737.0 660.0 740.0C663.2 743.0 665.2 745.5 668.0 749.0C670.8 752.5 673.7 756.5 677.0 761.0C680.3 765.5 684.2 770.5 688.0 776.0C691.8 781.5 696.0 788.2 700.0 794.0C704.0 799.8 707.8 804.7 712.0 811.0C716.2 817.3 720.5 825.2 725.0 832.0C729.5 838.8 734.8 846.7 739.0 852.0C743.2 857.3 746.5 860.7 750.0 864.0C753.5 867.3 756.2 869.2 760.0 872.0C763.8 874.8 768.5 878.8 773.0 881.0C777.5 883.2 782.5 885.0 787.0 885.5C791.5 886.0 795.7 885.4 800.0 884.0C804.3 882.6 808.5 880.2 813.0 877.0C817.5 873.8 823.3 869.0 827.0 865.0C830.7 861.0 832.8 857.2 835.0 853.0C837.2 848.8 838.9 844.5 840.0 840.0C841.1 835.5 841.4 830.0 841.5 826.0C841.6 822.0 841.2 819.2 840.5 816.0C839.8 812.8 838.7 810.3 837.0 806.5C835.3 802.7 833.3 798.2 830.5 793.0C827.7 787.8 824.0 781.2 820.0 775.0C816.0 768.8 811.0 761.8 806.5 756.0C802.0 750.2 797.4 745.2 793.0 740.0C788.6 734.8 783.7 729.0 780.0 725.0C776.3 721.0 772.5 718.7 771.0 716.0C769.5 713.3 771.0 710.2 771.0 709.0C767.5 706.3 755.7 697.0 750.0 693.0C744.3 689.0 741.5 687.7 737.0 685.0C732.5 682.3 727.5 679.7 723.0 677.0C718.5 674.3 714.3 671.8 710.0 669.0C705.7 666.2 701.5 663.3 697.0 660.0C692.5 656.7 687.5 652.8 683.0 649.0C678.5 645.2 674.3 641.2 670.0 637.0C665.7 632.8 661.5 628.3 657.0 624.0C652.5 619.7 646.8 614.7 643.0 611.0C639.2 607.3 635.9 603.8 634.0 602.0C632.1 600.2 631.9 600.3 631.5 600.0Z" fill="#a4a4a3" stroke="#a4a4a3" stroke-width="1.4"/>
<g clip-path="url(#cRG)">
<path d="M703.0 696.0C707.3 696.1 709.2 697.8 712.0 699.0C714.8 700.2 716.5 701.6 720.0 703.5C723.5 705.4 728.5 707.9 733.0 710.5C737.5 713.1 742.5 715.9 747.0 719.0C751.5 722.1 755.7 725.3 760.0 729.0C764.3 732.7 768.5 736.5 773.0 741.0C777.5 745.5 782.5 750.7 787.0 756.0C791.5 761.3 796.0 766.8 800.0 773.0C804.0 779.2 808.2 787.3 811.0 793.0C813.8 798.7 815.4 802.5 817.0 807.0C818.6 811.5 820.2 815.7 820.5 820.0C820.8 824.3 820.6 828.3 819.0 833.0C817.4 837.7 814.2 843.8 811.0 848.0C807.8 852.2 804.0 855.8 800.0 858.5C796.0 861.2 791.5 863.1 787.0 864.0C782.5 864.9 777.5 864.9 773.0 864.0C768.5 863.1 764.3 861.4 760.0 858.5C755.7 855.6 751.4 851.8 747.0 846.5C742.6 841.2 738.0 833.8 733.5 827.0C729.0 820.2 724.2 812.2 720.0 806.0C715.8 799.8 712.0 795.5 708.0 790.0C704.0 784.5 700.0 778.8 696.0 773.0C692.0 767.2 687.3 760.5 684.0 755.0C680.7 749.5 678.5 745.2 676.0 740.0C673.5 734.8 670.3 728.2 669.0 724.0C667.7 719.8 667.2 718.0 668.0 715.0C668.8 712.0 671.0 708.8 674.0 706.0C677.0 703.2 681.2 700.2 686.0 698.5C690.8 696.8 698.7 695.9 703.0 696.0Z" fill="none" stroke="#c2c2c0" stroke-width="9" filter="url(#blur2)" opacity="0.9"/>
<path d="M666.5 716.0C666.7 713.2 666.2 703.8 667.5 699.0C668.8 694.2 670.9 690.5 674.0 687.5C677.1 684.5 681.7 682.2 686.0 681.0C690.3 679.8 693.8 678.6 700.0 680.0C706.2 681.4 715.2 684.8 723.3 689.5C731.3 694.2 740.8 702.4 748.3 708.5C755.8 714.6 764.7 723.1 768.0 726.0" fill="none" stroke="#5c5c5a" stroke-width="10" filter="url(#blur2)" opacity="0.75"/>
<path d="M640.0 640.0C647.0 637.5 660.0 648.3 670.0 655.0C680.0 661.7 696.7 674.2 700.0 680.0C703.3 685.8 695.8 688.3 690.0 690.0C684.2 691.7 671.7 685.8 665.0 690.0C658.3 694.2 655.0 713.3 650.0 715.0C645.0 716.7 638.7 707.5 635.0 700.0C631.3 692.5 627.2 680.0 628.0 670.0C628.8 660.0 633.0 642.5 640.0 640.0Z" fill="#9b9b99" opacity="0.45" filter="url(#blur4)"/>
</g>
<path d="M641.0 750.0C643.0 753.8 648.7 765.2 653.0 773.0C657.3 780.8 662.5 789.4 667.0 797.0C671.5 804.6 675.7 811.3 680.0 818.5C684.3 825.7 688.5 833.1 693.0 840.0C697.5 846.9 702.8 854.0 707.0 860.0C711.2 866.0 715.5 872.2 718.0 876.0C720.5 879.8 721.3 881.8 722.0 883.0C723.0 881.5 727.0 875.5 728.0 874.0C726.2 871.7 721.5 865.7 717.5 860.0C713.5 854.3 708.4 846.9 704.0 840.0C699.6 833.1 695.4 825.7 691.0 818.5C686.6 811.3 682.0 804.6 677.5 797.0C673.0 789.4 667.8 781.3 664.0 773.0C660.2 764.7 656.1 751.3 654.5 747.0C652.2 747.5 643.2 749.5 641.0 750.0Z" fill="#d5d4cf"/>
<path d="M642.0 752.0C643.9 755.5 649.2 765.8 653.3 773.3C657.4 780.8 662.2 789.7 666.7 797.3C671.2 804.9 675.6 811.6 680.0 818.7C684.4 825.8 688.8 833.1 693.3 840.0C697.8 846.9 702.5 853.8 706.7 860.0C710.9 866.2 716.7 874.4 718.7 877.3" fill="none" stroke="#3a2a22" stroke-width="2.2" stroke-dasharray="2.6 3.4" stroke-linecap="round" opacity="0.9"/>
<path d="M646.2 750.5C648.1 754.0 653.4 764.2 657.5 771.8C661.6 779.3 666.5 788.2 670.9 795.8C675.4 803.4 679.8 810.1 684.2 817.2C688.6 824.3 693.0 831.6 697.5 838.5C702.0 845.4 706.7 852.3 710.9 858.5C715.1 864.7 720.9 872.9 722.9 875.8" fill="none" stroke="#f4f4f2" stroke-width="2.4" opacity="0.95"/>
<path d="M649.5 748.5C651.4 752.0 656.7 762.2 660.8 769.8C664.9 777.3 669.8 786.2 674.2 793.8C678.7 801.4 683.1 808.1 687.5 815.2C691.9 822.3 696.3 829.6 700.8 836.5C705.2 843.4 710.0 850.3 714.2 856.5C718.4 862.7 724.2 870.9 726.2 873.8" fill="none" stroke="#8e8c88" stroke-width="1.6" opacity="0.8"/>
<path d="M703.0 696.0C707.3 696.1 709.2 697.8 712.0 699.0C714.8 700.2 716.5 701.6 720.0 703.5C723.5 705.4 728.5 707.9 733.0 710.5C737.5 713.1 742.5 715.9 747.0 719.0C751.5 722.1 755.7 725.3 760.0 729.0C764.3 732.7 768.5 736.5 773.0 741.0C777.5 745.5 782.5 750.7 787.0 756.0C791.5 761.3 796.0 766.8 800.0 773.0C804.0 779.2 808.2 787.3 811.0 793.0C813.8 798.7 815.4 802.5 817.0 807.0C818.6 811.5 820.2 815.7 820.5 820.0C820.8 824.3 820.6 828.3 819.0 833.0C817.4 837.7 814.2 843.8 811.0 848.0C807.8 852.2 804.0 855.8 800.0 858.5C796.0 861.2 791.5 863.1 787.0 864.0C782.5 864.9 777.5 864.9 773.0 864.0C768.5 863.1 764.3 861.4 760.0 858.5C755.7 855.6 751.4 851.8 747.0 846.5C742.6 841.2 738.0 833.8 733.5 827.0C729.0 820.2 724.2 812.2 720.0 806.0C715.8 799.8 712.0 795.5 708.0 790.0C704.0 784.5 700.0 778.8 696.0 773.0C692.0 767.2 687.3 760.5 684.0 755.0C680.7 749.5 678.5 745.2 676.0 740.0C673.5 734.8 670.3 728.2 669.0 724.0C667.7 719.8 667.2 718.0 668.0 715.0C668.8 712.0 671.0 708.8 674.0 706.0C677.0 703.2 681.2 700.2 686.0 698.5C690.8 696.8 698.7 695.9 703.0 696.0Z" fill="#fff"/>
<path d="M809.0 952.0C817.2 940.3 849.8 893.7 858.0 882.0C859.4 885.0 864.4 894.0 866.5 900.0C868.6 906.0 870.2 913.2 870.5 918.0C870.8 922.8 869.9 926.7 868.5 929.0C867.1 931.3 863.9 932.8 862.0 932.0C860.1 931.2 859.0 926.0 857.0 924.0C855.0 922.0 852.2 919.5 850.0 920.0C847.8 920.5 845.3 923.2 844.0 927.0C842.7 930.8 841.5 938.0 842.0 943.0C842.5 948.0 844.5 953.0 847.0 957.0C849.5 961.0 853.7 964.2 857.0 967.0C860.3 969.8 865.3 972.4 867.0 973.5C866.5 975.1 865.4 980.1 864.0 983.0C862.6 985.9 860.8 989.5 858.5 991.0C856.2 992.5 854.2 994.2 850.0 992.0C845.8 989.8 838.5 983.3 833.0 978.0C827.5 972.7 821.0 964.3 817.0 960.0C813.0 955.7 810.3 953.3 809.0 952.0Z" fill="#8f8d89"/>
<linearGradient id="gPivSide" x1="0" y1="0" x2="0" y2="1"><stop offset="0.55" stop-color="#4e4a3c"/><stop offset="0.8" stop-color="#77725f"/><stop offset="1" stop-color="#a5a296"/></linearGradient>
<ellipse cx="539.3" cy="576" rx="30.7" ry="31.3" fill="url(#gPivSide)"/>
<ellipse cx="539.3" cy="576" rx="30" ry="30.6" fill="none" stroke="#35332f" stroke-width="1.6" opacity="0.9"/>
<ellipse cx="538.3" cy="573" rx="28" ry="24.7" fill="url(#gPiv)"/>
<path d="M511 578 A28 24.7 0 0 0 565.5 578" fill="none" stroke="#f3f2ee" stroke-width="1.2" opacity="0.7"/>
</g>
<path d="M434.5 340.5L425.8 176.8L505.8 344.5" fill="none" stroke="#0a0a0a" stroke-width="2.8" stroke-linejoin="miter"/>
<path d="M163.7 321.5L400.0 403.0" fill="none" stroke="#0a0a0a" stroke-width="2.8" stroke-linejoin="miter"/>
<path d="M757.5 329.3L542.0 428.5" fill="none" stroke="#0a0a0a" stroke-width="2.8" stroke-linejoin="miter"/>
<path d="M256.5 587.5L503.0 488.0" fill="none" stroke="#0a0a0a" stroke-width="2.8" stroke-linejoin="miter"/>
<path d="M539.0 572.7L802.0 572.7" fill="none" stroke="#0a0a0a" stroke-width="2.8" stroke-linejoin="miter"/>
<path d="M290.5 774.5L488.0 698.5" fill="none" stroke="#0a0a0a" stroke-width="2.8" stroke-linejoin="miter"/>
<path d="M384.0 1086.7L587.0 1086.7" fill="none" stroke="#0a0a0a" stroke-width="2.8" stroke-linejoin="miter"/>
<path d="M566.7 857.3L712.0 1071.0L680.0 825.0" fill="none" stroke="#0a0a0a" stroke-width="2.8" stroke-linejoin="miter"/>
<path d="M867.0 935.3L940.0 935.3" fill="none" stroke="#0a0a0a" stroke-width="2.8" stroke-linejoin="miter"/>
<text x="308.92" y="117.70" font-size="32" textLength="111.67" lengthAdjust="spacingAndGlyphs" stroke="#0a0a0a" stroke-width="0.85" stroke-linejoin="round">Cutting</text>
<text x="429.11" y="117.70" font-size="32" textLength="75.88" lengthAdjust="spacingAndGlyphs" stroke="#0a0a0a" stroke-width="0.85" stroke-linejoin="round">Edge</text>
<text x="308.92" y="167.50" font-size="32" textLength="109.17" lengthAdjust="spacingAndGlyphs" stroke="#0a0a0a" stroke-width="0.85" stroke-linejoin="round">Special</text>
<text x="426.89" y="167.50" font-size="32" textLength="85.12" lengthAdjust="spacingAndGlyphs" stroke="#0a0a0a" stroke-width="0.85" stroke-linejoin="round">craft,</text>
<text x="518.92" y="167.50" font-size="32" textLength="83.05" lengthAdjust="spacingAndGlyphs" stroke="#0a0a0a" stroke-width="0.85" stroke-linejoin="round">sharp</text>
<text x="612.99" y="167.50" font-size="32" textLength="93.12" lengthAdjust="spacingAndGlyphs" stroke="#0a0a0a" stroke-width="0.85" stroke-linejoin="round">blade,</text>
<text x="715.11" y="167.50" font-size="32" textLength="123.87" lengthAdjust="spacingAndGlyphs" stroke="#0a0a0a" stroke-width="0.85" stroke-linejoin="round">durable</text>
<text x="40.82" y="319.50" font-size="32" textLength="59.57" lengthAdjust="spacingAndGlyphs" stroke="#0a0a0a" stroke-width="0.85" stroke-linejoin="round">Fish</text>
<text x="111.11" y="319.50" font-size="32" textLength="90.27" lengthAdjust="spacingAndGlyphs" stroke="#0a0a0a" stroke-width="0.85" stroke-linejoin="round">scales</text>
<text x="210.53" y="319.50" font-size="32" textLength="78.46" lengthAdjust="spacingAndGlyphs" stroke="#0a0a0a" stroke-width="0.85" stroke-linejoin="round">knife</text>
<text x="757.00" y="319.50" font-size="32" textLength="99.19" lengthAdjust="spacingAndGlyphs" stroke="#0a0a0a" stroke-width="0.85" stroke-linejoin="round">Paring</text>
<text x="864.54" y="319.50" font-size="32" textLength="77.35" lengthAdjust="spacingAndGlyphs" stroke="#0a0a0a" stroke-width="0.85" stroke-linejoin="round">knife</text>
<text x="757.01" y="369.60" font-size="32" textLength="66.19" lengthAdjust="spacingAndGlyphs" stroke="#0a0a0a" stroke-width="0.85" stroke-linejoin="round">Peel</text>
<text x="833.52" y="369.60" font-size="32" textLength="79.67" lengthAdjust="spacingAndGlyphs" stroke="#0a0a0a" stroke-width="0.85" stroke-linejoin="round">fruits</text>
<text x="923.49" y="369.60" font-size="32" textLength="52.52" lengthAdjust="spacingAndGlyphs" stroke="#0a0a0a" stroke-width="0.85" stroke-linejoin="round">and</text>
<text x="986.10" y="369.60" font-size="32" textLength="173.28" lengthAdjust="spacingAndGlyphs" stroke="#0a0a0a" stroke-width="0.85" stroke-linejoin="round">vegetables</text>
<text x="39.93" y="497.70" font-size="32" textLength="98.06" lengthAdjust="spacingAndGlyphs" stroke="#0a0a0a" stroke-width="0.85" stroke-linejoin="round">Clamp</text>
<text x="40.60" y="548.00" font-size="32" textLength="46.89" lengthAdjust="spacingAndGlyphs" stroke="#0a0a0a" stroke-width="0.85" stroke-linejoin="round">For</text>
<text x="99.90" y="548.00" font-size="32" textLength="117.99" lengthAdjust="spacingAndGlyphs" stroke="#0a0a0a" stroke-width="0.85" stroke-linejoin="round">chicken</text>
<text x="227.52" y="548.00" font-size="32" textLength="78.47" lengthAdjust="spacingAndGlyphs" stroke="#0a0a0a" stroke-width="0.85" stroke-linejoin="round">bone</text>
<text x="40.53" y="598.00" font-size="32" textLength="125.87" lengthAdjust="spacingAndGlyphs" stroke="#0a0a0a" stroke-width="0.85" stroke-linejoin="round">Non-slip</text>
<text x="180.00" y="598.00" font-size="32" textLength="75.34" lengthAdjust="spacingAndGlyphs" stroke="#0a0a0a" stroke-width="0.85" stroke-linejoin="round">fixed</text>
<text x="800.10" y="580.50" font-size="32" textLength="128.01" lengthAdjust="spacingAndGlyphs" stroke="#0a0a0a" stroke-width="0.85" stroke-linejoin="round">Remove</text>
<text x="937.94" y="580.50" font-size="32" textLength="74.18" lengthAdjust="spacingAndGlyphs" stroke="#0a0a0a" stroke-width="0.85" stroke-linejoin="round">shaft</text>
<text x="800.14" y="630.00" font-size="32" textLength="57.75" lengthAdjust="spacingAndGlyphs" stroke="#0a0a0a" stroke-width="0.85" stroke-linejoin="round">Use</text>
<text x="866.91" y="630.00" font-size="32" textLength="120.06" lengthAdjust="spacingAndGlyphs" stroke="#0a0a0a" stroke-width="0.85" stroke-linejoin="round">scissors</text>
<text x="996.13" y="630.00" font-size="32" textLength="161.79" lengthAdjust="spacingAndGlyphs" stroke="#0a0a0a" stroke-width="0.85" stroke-linejoin="round">separately</text>
<text x="800.21" y="679.50" font-size="32" textLength="36.73" lengthAdjust="spacingAndGlyphs" stroke="#0a0a0a" stroke-width="0.85" stroke-linejoin="round">By</text>
<text x="846.88" y="679.50" font-size="32" textLength="126.24" lengthAdjust="spacingAndGlyphs" stroke="#0a0a0a" stroke-width="0.85" stroke-linejoin="round">rotating</text>
<text x="980.02" y="679.50" font-size="32" textLength="51.94" lengthAdjust="spacingAndGlyphs" stroke="#0a0a0a" stroke-width="0.85" stroke-linejoin="round">90°</text>
<text x="39.11" y="769.50" font-size="32" textLength="121.87" lengthAdjust="spacingAndGlyphs" stroke="#0a0a0a" stroke-width="0.85" stroke-linejoin="round">Scissors</text>
<text x="169.11" y="769.50" font-size="32" textLength="107.89" lengthAdjust="spacingAndGlyphs" stroke="#0a0a0a" stroke-width="0.85" stroke-linejoin="round">handle</text>
<text x="40.12" y="820.00" font-size="32" textLength="87.77" lengthAdjust="spacingAndGlyphs" stroke="#0a0a0a" stroke-width="0.85" stroke-linejoin="round">Made</text>
<text x="139.12" y="820.00" font-size="32" textLength="27.02" lengthAdjust="spacingAndGlyphs" stroke="#0a0a0a" stroke-width="0.85" stroke-linejoin="round">of</text>
<text x="175.00" y="820.00" font-size="32" textLength="64.85" lengthAdjust="spacingAndGlyphs" stroke="#0a0a0a" stroke-width="0.85" stroke-linejoin="round">TPR</text>
<text x="247.90" y="820.00" font-size="32" textLength="59.08" lengthAdjust="spacingAndGlyphs" stroke="#0a0a0a" stroke-width="0.85" stroke-linejoin="round">and</text>
<text x="315.08" y="820.00" font-size="32" textLength="39.83" lengthAdjust="spacingAndGlyphs" stroke="#0a0a0a" stroke-width="0.85" stroke-linejoin="round">PP</text>
<text x="40.10" y="870.00" font-size="32" textLength="198.81" lengthAdjust="spacingAndGlyphs" stroke="#0a0a0a" stroke-width="0.85" stroke-linejoin="round">Labor-saving</text>
<text x="40.13" y="921.00" font-size="32" textLength="119.87" lengthAdjust="spacingAndGlyphs" stroke="#0a0a0a" stroke-width="0.85" stroke-linejoin="round">Prevent</text>
<text x="170.11" y="921.00" font-size="32" textLength="114.78" lengthAdjust="spacingAndGlyphs" stroke="#0a0a0a" stroke-width="0.85" stroke-linejoin="round">hurting</text>
<text x="293.02" y="921.00" font-size="32" textLength="93.97" lengthAdjust="spacingAndGlyphs" stroke="#0a0a0a" stroke-width="0.85" stroke-linejoin="round">hands</text>
<text x="264.10" y="1099.30" font-size="32" textLength="49.00" lengthAdjust="spacingAndGlyphs" stroke="#0a0a0a" stroke-width="0.85" stroke-linejoin="round">Dig</text>
<text x="326.00" y="1099.30" font-size="32" textLength="58.82" lengthAdjust="spacingAndGlyphs" stroke="#0a0a0a" stroke-width="0.85" stroke-linejoin="round">tool</text>
<text x="676.03" y="1099.50" font-size="32" textLength="72.96" lengthAdjust="spacingAndGlyphs" stroke="#0a0a0a" stroke-width="0.85" stroke-linejoin="round">Nuts</text>
<text x="757.41" y="1099.50" font-size="32" textLength="79.58" lengthAdjust="spacingAndGlyphs" stroke="#0a0a0a" stroke-width="0.85" stroke-linejoin="round">open</text>
<text x="844.91" y="1099.50" font-size="32" textLength="56.06" lengthAdjust="spacingAndGlyphs" stroke="#0a0a0a" stroke-width="0.85" stroke-linejoin="round">clip</text>
<text x="943.22" y="946.70" font-size="32" textLength="93.27" lengthAdjust="spacingAndGlyphs" stroke="#0a0a0a" stroke-width="0.85" stroke-linejoin="round">Bottle</text>
<text x="1045.73" y="946.70" font-size="32" textLength="110.27" lengthAdjust="spacingAndGlyphs" stroke="#0a0a0a" stroke-width="0.85" stroke-linejoin="round">opener</text>
</svg>
</body></html>
